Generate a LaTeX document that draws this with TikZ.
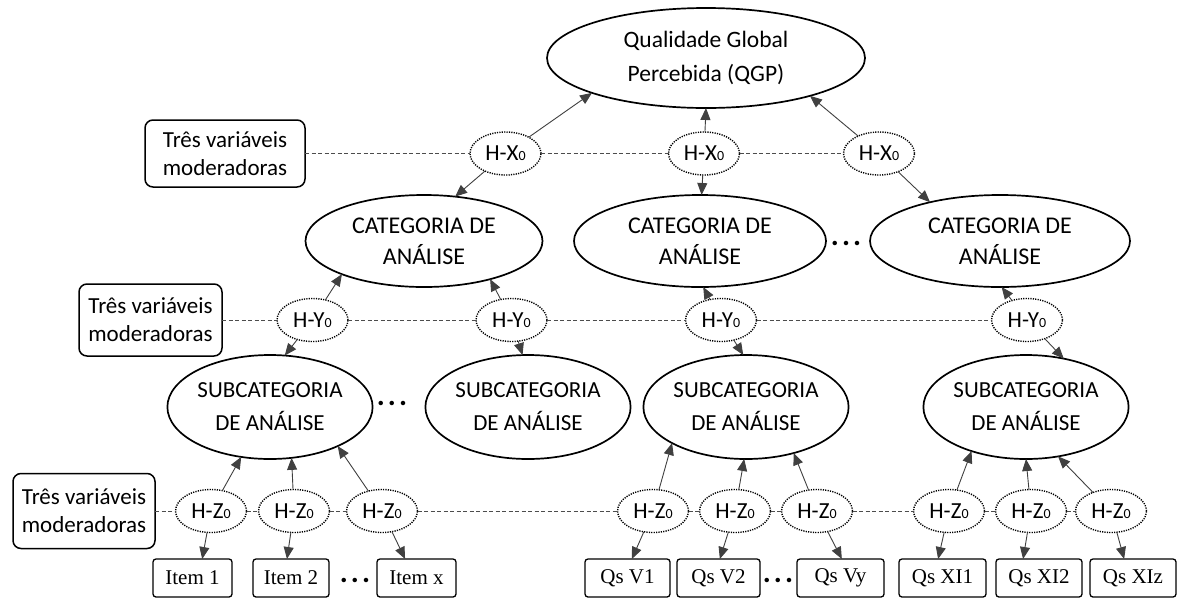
\documentclass[tikz,border=0pt]{standalone}
\usepackage{fontspec}
\setmainfont{Carlito}
\newfontfamily\leaffont{Liberation Serif}
\usetikzlibrary{shapes.geometric,arrows.meta}

% hypothesis label: H-<letter> followed by a small 0
\newcommand\hlab[1]{H-#1{\fontsize{14}{14}\selectfont 0}}

\begin{document}
\begin{tikzpicture}[x=1pt,y=-1pt,
  every node/.style={inner sep=0pt, outer sep=0pt},
  bigell/.style={ellipse, draw, line width=1.7pt, align=center,
                 font=\fontsize{24}{31}\selectfont},
  subell/.style={bigell, minimum height=104pt, font=\fontsize{23}{33}\selectfont},
  hyp/.style={ellipse, draw, line width=1.4pt, dash pattern=on 1.2pt off 1.2pt,
              minimum width=71pt, minimum height=43pt, font=\fontsize{23}{23}\selectfont},
  modbox/.style={draw, rounded corners=8pt, line width=1.5pt, align=center,
                 font=\fontsize{23}{28}\selectfont},
  leaf/.style={draw, rounded corners=3pt, line width=1.3pt, minimum height=38pt,
               font=\leaffont\fontsize{21}{21}\selectfont},
  link/.style={draw=black!75, line width=0.9pt, -{Triangle[length=12pt,width=10pt]}},
  modline/.style={draw=black!70, line width=0.9pt, dash pattern=on 4pt off 2.5pt},
  ellipsis/.style={font=\bfseries\fontsize{30}{30}\selectfont}
]
\useasboundingbox (0,0) rectangle (1178,598);

% ---- top level
\node[bigell, minimum width=318pt, minimum height=100pt,
      font=\fontsize{23.5}{34}\selectfont] (qgp) at (706,58) {Qualidade Global\\Percebida (QGP)};

% ---- moderator row X
\node[modbox, minimum width=160pt, minimum height=67pt] (m1) at (225,153.5) {Três variáveis\\moderadoras};
\node[hyp] (hx1) at (505.5,153.5) {\hlab{X}};
\node[hyp] (hx2) at (704,153.5) {\hlab{X}};
\node[hyp] (hx3) at (879,153.5) {\hlab{X}};

% ---- categories
\node[bigell, minimum width=237pt, minimum height=92pt] (c1) at (424,241) {CATEGORIA DE\\ANÁLISE};
\node[bigell, minimum width=252pt, minimum height=92pt] (c2) at (700,241) {CATEGORIA DE\\ANÁLISE};
\node[bigell, minimum width=260pt, minimum height=92pt] (c3) at (1000,241) {CATEGORIA DE\\ANÁLISE};
\node[ellipsis] (d1) at (846,243) {.\hspace{3pt}.\hspace{3pt}.};

% ---- moderator row Y
\node[modbox, minimum width=143pt, minimum height=72pt] (m2) at (150.5,320) {Três variáveis\\moderadoras};
\node[hyp] (hy1) at (312.5,320) {\hlab{Y}};
\node[hyp] (hy2) at (511.5,320) {\hlab{Y}};
\node[hyp] (hy3) at (721,320) {\hlab{Y}};
\node[hyp] (hy4) at (1027,320) {\hlab{Y}};

% ---- subcategories
\node[subell, minimum width=200pt] (s1) at (270,407) {SUBCATEGORIA\\DE ANÁLISE};
\node[subell, minimum width=202pt] (s2) at (528,407) {SUBCATEGORIA\\DE ANÁLISE};
\node[subell, minimum width=204pt] (s3) at (746,407) {SUBCATEGORIA\\DE ANÁLISE};
\node[subell, minimum width=204pt] (s4) at (1026,407) {SUBCATEGORIA\\DE ANÁLISE};
\node[ellipsis] (d2) at (392,403) {.\hspace{3pt}.\hspace{3pt}.};

% ---- moderator row Z
\node[modbox, minimum width=142pt, minimum height=75pt] (m3) at (84,511) {Três variáveis\\moderadoras};
\node[hyp] (hz1) at (211,511) {\hlab{Z}};
\node[hyp] (hz2) at (294,511) {\hlab{Z}};
\node[hyp] (hz3) at (382,511) {\hlab{Z}};
\node[hyp] (hz4) at (653,511) {\hlab{Z}};
\node[hyp] (hz5) at (735,511) {\hlab{Z}};
\node[hyp] (hz6) at (817,511) {\hlab{Z}};
\node[hyp] (hz7) at (949,511) {\hlab{Z}};
\node[hyp] (hz8) at (1031,511) {\hlab{Z}};
\node[hyp] (hz9) at (1111,511) {\hlab{Z}};

% ---- items and questions
\node[leaf, minimum width=79pt] (i1) at (192.5,578) {Item 1};
\node[leaf, minimum width=76pt] (i2) at (291,578) {Item 2};
\node[leaf, minimum width=79pt] (ix) at (416.5,578) {Item x};
\node[ellipsis] (d3) at (355,580) {.\hspace{3pt}.\hspace{3pt}.};
\node[leaf, minimum width=85pt] (q1) at (627.5,578) {Qs V1};
\node[leaf, minimum width=83pt] (q2) at (718.5,578) {Qs V2};
\node[leaf, minimum width=87pt] (qy) at (840.5,578) {Qs Vy};
\node[ellipsis] (d4) at (778,580) {.\hspace{3pt}.\hspace{3pt}.};
\node[leaf, minimum width=87pt] (r1) at (942.5,578) {Qs XI1};
\node[leaf, minimum width=86pt] (r2) at (1039,578) {Qs XI2};
\node[leaf, minimum width=86pt] (rz) at (1133,578) {Qs XIz};

% ---- dashed moderator lines
\draw[modline] (m1) -- (hx1) -- (hx2) -- (hx3);
\draw[modline] (m2) -- (hy1) -- (hy2) -- (hy3) -- (hy4);
\draw[modline] (m3) -- (hz1) -- (hz2) -- (hz3) -- (hz4) -- (hz5) -- (hz6) -- (hz7) -- (hz8) -- (hz9);

% ---- arrows from X hypotheses
\draw[link] (hx1) -- (qgp.197);
\draw[link] (hx1) -- (c1.55);
\draw[link] (hx2) -- (qgp.270);
\draw[link] (hx2) -- (c2.88);
\draw[link] (hx3) -- (qgp.340);
\draw[link] (hx3) -- (c3.151);

% ---- arrows from Y hypotheses
\draw[link] (hy1) -- (c1.202);
\draw[link] (hy1) -- (s1.74);
\draw[link] (hy2) -- (c1.330);
\draw[link] (hy2) -- (s2.96);
\draw[link] (hy3) -- (c2.274);
\draw[link] (hy3) -- (s3.93);
\draw[link] (hy4) -- (c3.272);
\draw[link] (hy4) -- (s4.52);

% ---- arrows from Z hypotheses
\draw[link] (hz1) -- (s1.240);
\draw[link] (hz1) -- (i1.63);
\draw[link] (hz2) -- (s1.293);
\draw[link] (hz2) -- (i2.102);
\draw[link] (hz3) -- (s1.330);
\draw[link] (hz3) -- (ix.121);
\draw[link] (hz4) -- (s3.206);
\draw[link] (hz4) -- (q1.77);
\draw[link] (hz5) -- (s3.268);
\draw[link] (hz5) -- (q2.86);
\draw[link] (hz6) -- (s3.316);
\draw[link] (hz6) -- (qy.86);
\draw[link] (hz7) -- (s4.219);
\draw[link] (hz7) -- (r1.103);
\draw[link] (hz8) -- (s4.270);
\draw[link] (hz8) -- (r2.130);
\draw[link] (hz9) -- (s4.303);
\draw[link] (hz9) -- (rz.115);
\end{tikzpicture}
\end{document}
